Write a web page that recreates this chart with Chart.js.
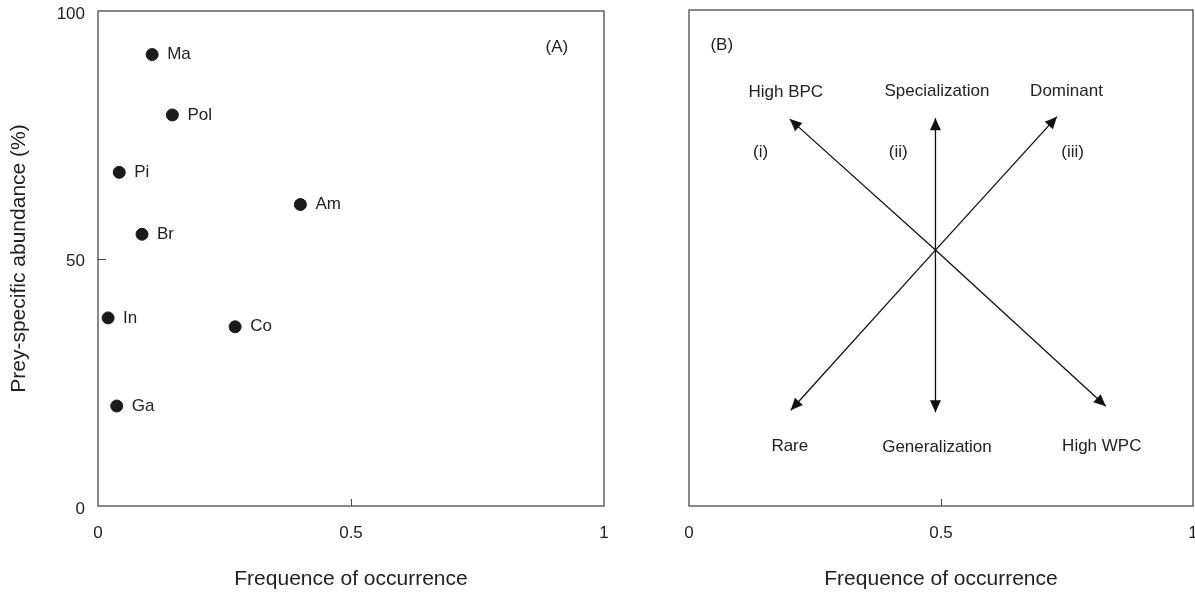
<!DOCTYPE html>
<html>
<head>
<meta charset="utf-8">
<script src="https://cdn.jsdelivr.net/npm/chart.js@4.4.0/dist/chart.umd.min.js"></script>
<style>
  html, body { margin: 0; padding: 0; background: #fff; overflow: hidden; }
  #wrap { position: relative; width: 1195px; height: 594px; }
  canvas { position: absolute; top: 0; }
  #chartA { left: 0; }
  #chartB { left: 640px; }
</style>
</head>
<body>
<div id="wrap">
  <canvas id="chartA" width="640" height="594"></canvas>
  <canvas id="chartB" width="560" height="594"></canvas>
</div>
<script>
// Panel (A): prey items
const preyNames  = ['Ma', 'Pol', 'Pi', 'Br', 'Am', 'In', 'Co', 'Ga'];
const occurrence = [0.107, 0.147, 0.042, 0.087, 0.400, 0.020, 0.271, 0.037];
const abundance  = [91.2, 79.0, 67.4, 54.9, 60.9, 38.0, 36.2, 20.2];

// tick labels
const xTicks = [0, 0.5, 1];
const yTicks = [0, 50, 100];

// Panel (B): conceptual arrows from a common centre
const arrowCentre = [0.489, 51.6];
const arrowTipX = [0.200, 0.489, 0.730, 0.202, 0.489, 0.827];
const arrowTipY = [78.0, 78.2, 78.5, 19.3, 18.9, 20.1];
const strategyNames = ['High BPC', 'Specialization', 'Dominant', 'Rare', 'Generalization', 'High WPC'];
const romanNames = ['(i)', '(ii)', '(iii)'];

const INK = '#222';
const FRAME = '#4a4a4a';
Chart.defaults.font.family = "'Liberation Sans', Arial, sans-serif";
Chart.defaults.color = INK;

// where the annotation texts sit, in axis units
const annotA = [
  { text: '(A)', x: 0.907, y: 92.6 }
];
const annotB = [
  { text: '(B)', x: 0.065, y: 92.8 },
  { text: strategyNames[0], x: 0.192, y: 83.5 },
  { text: strategyNames[1], x: 0.492, y: 83.6 },
  { text: strategyNames[2], x: 0.749, y: 83.6 },
  { text: romanNames[0], x: 0.142, y: 71.3 },
  { text: romanNames[1], x: 0.415, y: 71.3 },
  { text: romanNames[2], x: 0.761, y: 71.3 },
  { text: strategyNames[3], x: 0.200, y: 12.0 },
  { text: strategyNames[4], x: 0.492, y: 11.9 },
  { text: strategyNames[5], x: 0.819, y: 12.0 }
];

// box around plot area + small inward ticks at the middle values
const framePlugin = {
  id: 'frame',
  beforeDatasetsDraw(chart, args, opts) {
    const { ctx, chartArea: a, scales } = chart;
    ctx.save();
    ctx.strokeStyle = FRAME;
    ctx.lineWidth = 1.3;
    ctx.strokeRect(a.left, a.top, a.right - a.left, a.bottom - a.top);
    ctx.lineWidth = 1;
    ctx.beginPath();
    (opts.xMid || []).forEach(v => {
      const x = Math.round(scales.x.getPixelForValue(v)) + 0.5;
      ctx.moveTo(x, a.bottom);
      ctx.lineTo(x, a.bottom - 7);
    });
    (opts.yMid || []).forEach(v => {
      const y = Math.round(scales.y.getPixelForValue(v)) + 0.5;
      ctx.moveTo(a.left, y);
      ctx.lineTo(a.left + 8, y);
    });
    ctx.stroke();
    ctx.restore();
  }
};

// texts: point names and panel annotations
const textPlugin = {
  id: 'texts',
  afterDatasetsDraw(chart, args, opts) {
    const { ctx, scales } = chart;
    ctx.save();
    ctx.fillStyle = INK;
    ctx.font = "17px 'Liberation Sans', Arial, sans-serif";
    ctx.textBaseline = 'middle';
    if (opts.pointNames) {
      ctx.textAlign = 'left';
      chart.getDatasetMeta(0).data.forEach((pt, i) => {
        ctx.fillText(opts.pointNames[i], pt.x + 15, pt.y);
      });
    }
    ctx.textAlign = 'center';
    (opts.notes || []).forEach(n => {
      ctx.fillText(n.text, scales.x.getPixelForValue(n.x), scales.y.getPixelForValue(n.y));
    });
    ctx.restore();
  }
};

// filled arrowheads at the last point of every arrow dataset
const arrowPlugin = {
  id: 'arrows',
  afterDatasetsDraw(chart) {
    const ctx = chart.ctx;
    ctx.save();
    ctx.fillStyle = '#111';
    chart.data.datasets.forEach((ds, i) => {
      const pts = chart.getDatasetMeta(i).data;
      const a = pts[0], b = pts[1];
      const ang = Math.atan2(b.y - a.y, b.x - a.x);
      const len = 12, half = 5.5;
      const bx = b.x - len * Math.cos(ang), by = b.y - len * Math.sin(ang);
      ctx.beginPath();
      ctx.moveTo(b.x, b.y);
      ctx.lineTo(bx + half * Math.sin(ang), by - half * Math.cos(ang));
      ctx.lineTo(bx - half * Math.sin(ang), by + half * Math.cos(ang));
      ctx.closePath();
      ctx.fill();
    });
    ctx.restore();
  }
};

// let tick labels hang outside the plot without shrinking it
function noPad(s) {
  s.paddingTop = 0; s.paddingBottom = 0;
  s.paddingLeft = 0; s.paddingRight = 0;
}

function xScale(height) {
  return {
    type: 'linear', min: 0, max: 1,
    afterBuildTicks: s => { s.ticks = xTicks.map(v => ({ value: v })); },
    afterFit: s => { s.height = height; noPad(s); },
    grid: { display: false, drawTicks: false },
    border: { display: false },
    ticks: { padding: 17, font: { size: 17 }, color: INK, callback: v => String(v) },
    title: {
      display: true, text: 'Frequence of occurrence',
      font: { size: 21 }, color: INK, padding: { top: 0, bottom: 2 }
    }
  };
}

new Chart(document.getElementById('chartA'), {
  type: 'scatter',
  data: {
    datasets: [{
      data: occurrence.map((x, i) => ({ x, y: abundance[i] })),
      backgroundColor: '#1a1a1a',
      borderColor: '#1a1a1a',
      pointRadius: 6,
      pointHoverRadius: 6
    }]
  },
  options: {
    responsive: false,
    animation: false,
    events: [],
    layout: { padding: { left: 0, right: 36, top: 11, bottom: 0 } },
    plugins: {
      legend: { display: false },
      tooltip: { enabled: false },
      frame: { xMid: [0.5], yMid: [50] },
      texts: { pointNames: preyNames, notes: annotA }
    },
    scales: {
      x: xScale(88),
      y: {
        type: 'linear', min: 0, max: 100,
        afterBuildTicks: s => { s.ticks = yTicks.map(v => ({ value: v })); },
        afterFit: s => { s.width = 98; noPad(s); },
        grid: { display: false, drawTicks: false },
        border: { display: false },
        ticks: { padding: 13, labelOffset: 3, font: { size: 17 }, color: INK },
        title: {
          display: true, text: 'Prey-specific abundance (%)',
          font: { size: 21 }, color: INK, padding: { top: 7, bottom: 0 }
        }
      }
    }
  },
  plugins: [framePlugin, textPlugin]
});

new Chart(document.getElementById('chartB'), {
  type: 'scatter',
  data: {
    datasets: arrowTipX.map((tx, i) => ({
      data: [{ x: arrowCentre[0], y: arrowCentre[1] }, { x: tx, y: arrowTipY[i] }],
      showLine: true,
      borderColor: '#111',
      borderWidth: 1.3,
      pointRadius: 0,
      pointHoverRadius: 0
    }))
  },
  options: {
    responsive: false,
    animation: false,
    events: [],
    layout: { padding: { left: 49, right: 7, top: 10, bottom: 0 } },
    plugins: {
      legend: { display: false },
      tooltip: { enabled: false },
      frame: { xMid: [0.5] },
      texts: { notes: annotB }
    },
    scales: {
      x: xScale(88),
      y: { type: 'linear', min: 0, max: 100, display: false }
    }
  },
  plugins: [framePlugin, arrowPlugin, textPlugin]
});
</script>
</body>
</html>
